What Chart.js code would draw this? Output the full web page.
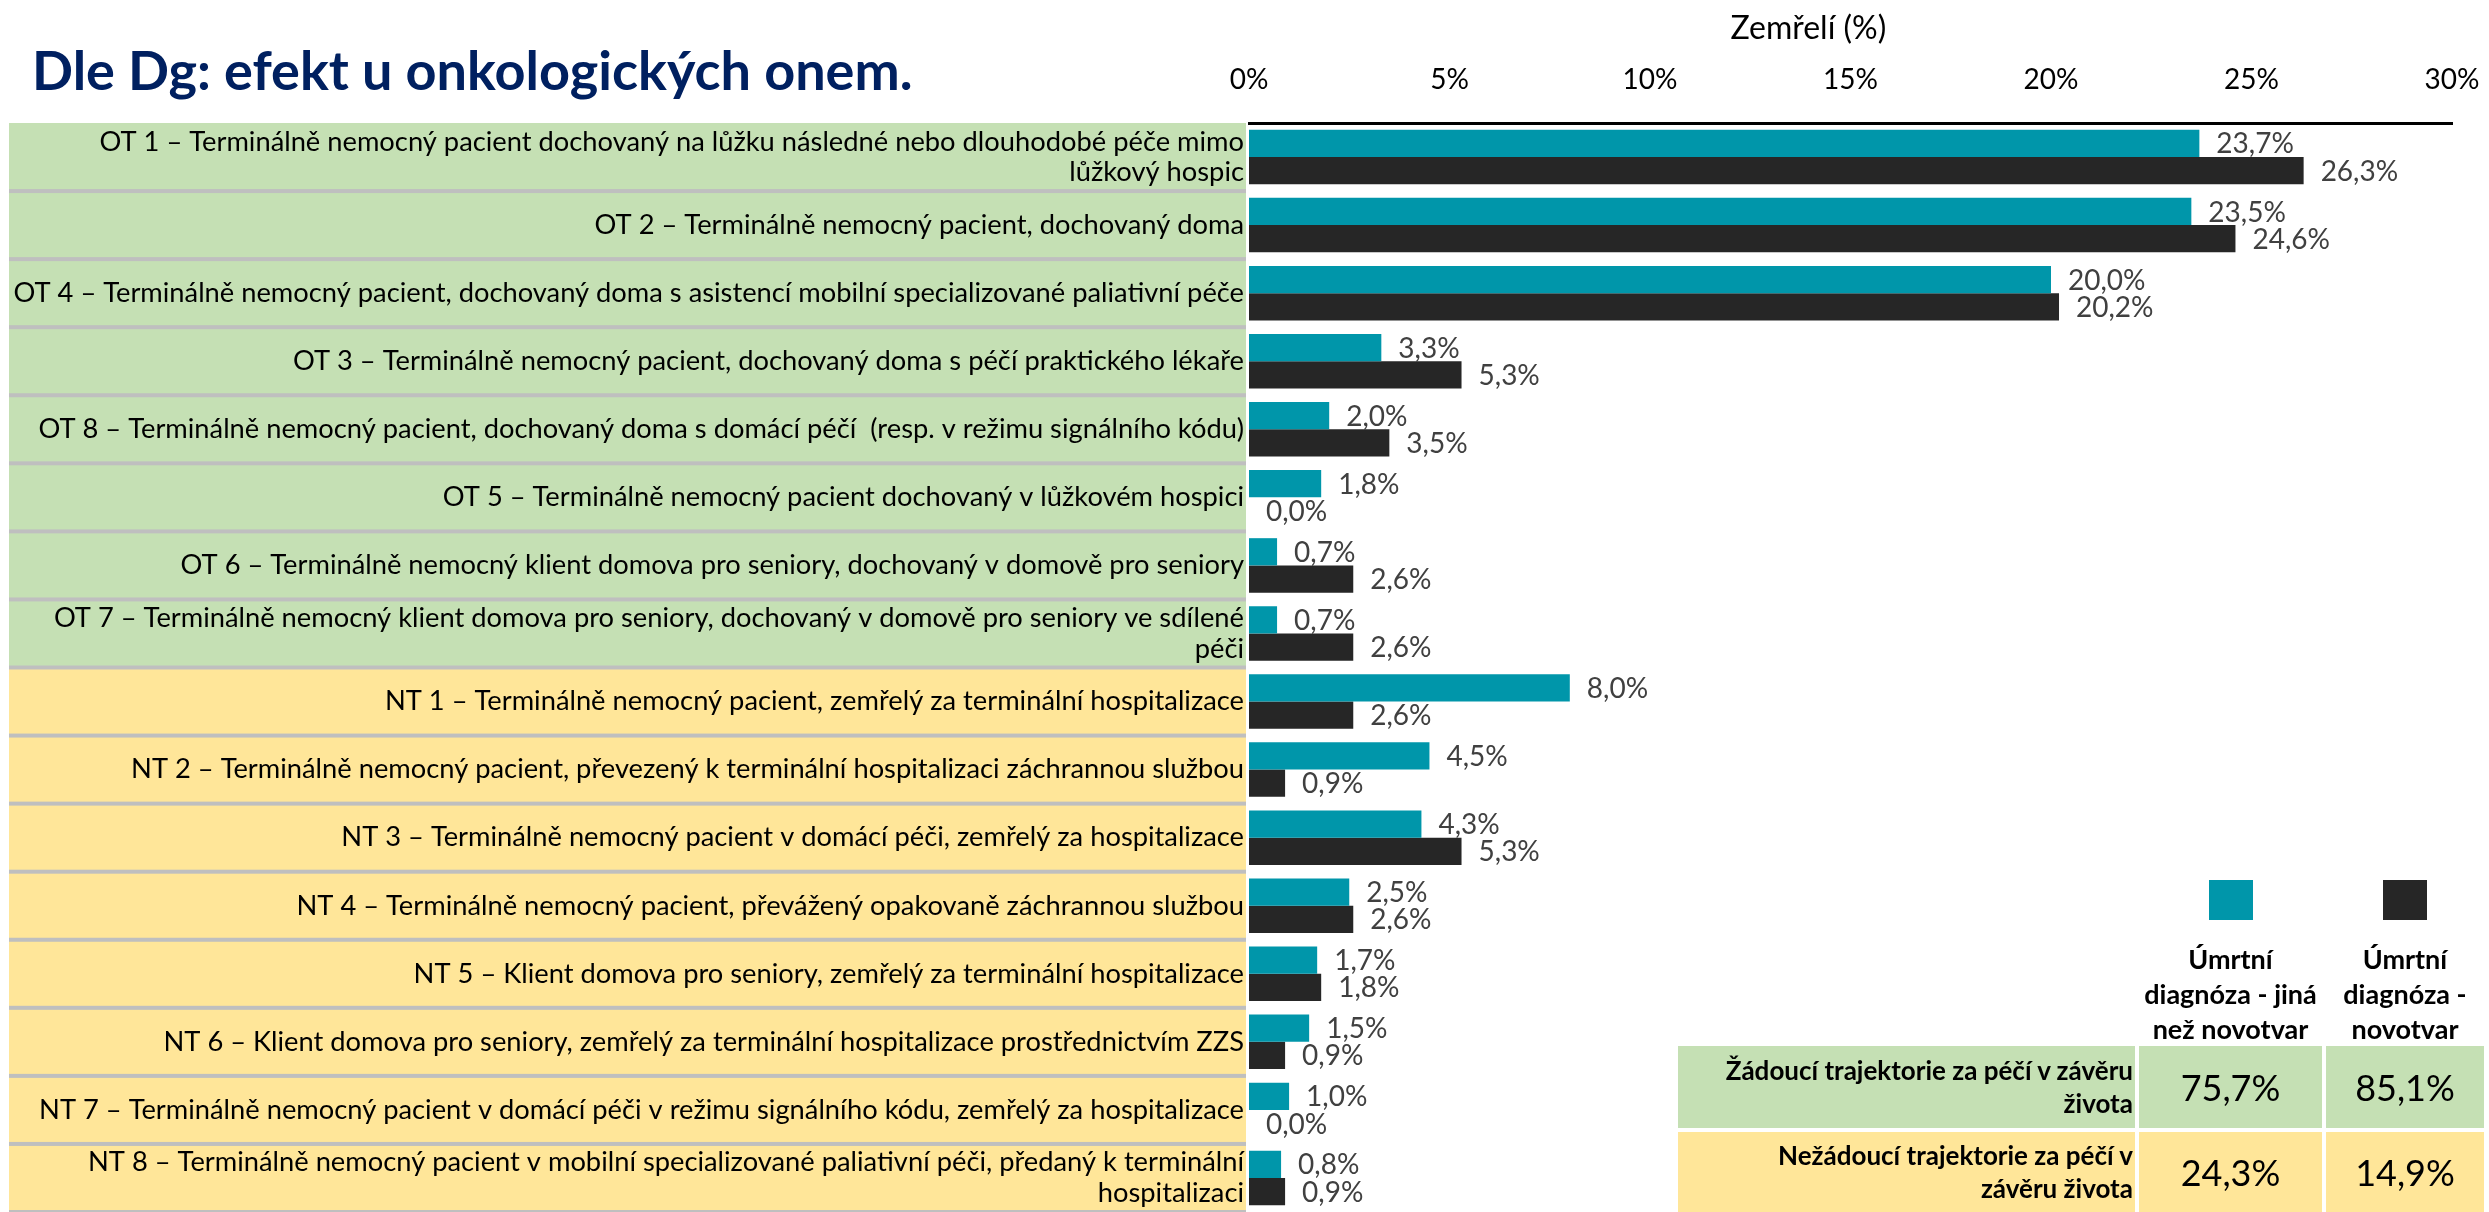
<!DOCTYPE html>
<html lang="cs">
<head>
<meta charset="utf-8">
<title>Dle Dg: efekt u onkologických onem.</title>
<script src="https://cdn.jsdelivr.net/npm/chart.js@4.4.1/dist/chart.umd.min.js"></script>
<style>
  html, body { margin: 0; padding: 0; background: #fff; overflow: hidden; }
  #wrap { position: relative; width: 2489px; height: 1212px; }
  #chartBox { position: absolute; left: 0; top: 0; width: 2489px; height: 1212px; }
  .title { position: absolute; left: 32px; top: 37px; margin: 0; font: bold 54px Lato, sans-serif; color: #002060; }
  .summary { position: absolute; left: 1678px; top: 880px; width: 806px;
             display: grid; grid-template-columns: 457px 183px 158px; grid-template-rows: 40px 118px 82px 80px;
             gap: 4px; font-family: Lato, sans-serif; color: #000; }
  .swatch { width: 44px; height: 40px; justify-self: center; }
  .head { align-self: end; text-align: center; font-weight: bold; font-size: 27px; line-height: 35px; margin-bottom: -4px; }
  .cell { display: flex; align-items: center; justify-content: center; font-size: 36px; }
  .rowlab { display: flex; align-items: center; justify-content: flex-end; text-align: right;
            font-weight: bold; font-size: 26px; line-height: 33px; padding-right: 2px; }
</style>
</head>
<body>
<div id="wrap">
  <div id="chartBox"><canvas id="chart"></canvas></div>
  <h1 class="title">Dle Dg: efekt u onkologických onem.</h1>
  <div class="summary" id="summary"></div>
</div>
<script>
// categories (top to bottom)
const categories = [
  ["OT 1 – Terminálně nemocný pacient dochovaný na lůžku následné nebo dlouhodobé péče mimo", "lůžkový hospic"],
  "OT 2 – Terminálně nemocný pacient, dochovaný doma",
  "OT 4 – Terminálně nemocný pacient, dochovaný doma s asistencí mobilní specializované paliativní péče",
  "OT 3 – Terminálně nemocný pacient, dochovaný doma s péčí praktického lékaře",
  "OT 8 – Terminálně nemocný pacient, dochovaný doma s domácí péčí  (resp. v režimu signálního kódu)",
  "OT 5 – Terminálně nemocný pacient dochovaný v lůžkovém hospici",
  "OT 6 – Terminálně nemocný klient domova pro seniory, dochovaný v domově pro seniory",
  ["OT 7 – Terminálně nemocný klient domova pro seniory, dochovaný v domově pro seniory ve sdílené", "péči"],
  "NT 1 – Terminálně nemocný pacient, zemřelý za terminální hospitalizace",
  "NT 2 – Terminálně nemocný pacient, převezený k terminální hospitalizaci záchrannou službou",
  "NT 3 – Terminálně nemocný pacient v domácí péči, zemřelý za hospitalizace",
  "NT 4 – Terminálně nemocný pacient, převážený opakovaně záchrannou službou",
  "NT 5 – Klient domova pro seniory, zemřelý za terminální hospitalizace",
  "NT 6 – Klient domova pro seniory, zemřelý za terminální hospitalizace prostřednictvím ZZS",
  "NT 7 – Terminálně nemocný pacient v domácí péči v režimu signálního kódu, zemřelý za hospitalizace",
  ["NT 8 – Terminálně nemocný pacient v mobilní specializované paliativní péči, předaný k terminální", "hospitalizaci"]
];
// OT = žádoucí (green), NT = nežádoucí (yellow)
const groups = ["OT","OT","OT","OT","OT","OT","OT","OT","NT","NT","NT","NT","NT","NT","NT","NT"];

const seriesNames = [["Úmrtní", "diagnóza - jiná", "než novotvar"], ["Úmrtní", "diagnóza -", "novotvar"]];
const otherDg = [23.7, 23.5, 20.0, 3.3, 2.0, 1.8, 0.7, 0.7, 8.0, 4.5, 4.3, 2.5, 1.7, 1.5, 1.0, 0.8];
const oncoDg  = [26.3, 24.6, 20.2, 5.3, 3.5, 0.0, 2.6, 2.6, 2.6, 0.9, 5.3, 2.6, 1.8, 0.9, 0.0, 0.9];

const xTicks = [0, 5, 10, 15, 20, 25, 30];
const axisTitle = "Zemřelí (%)";

const summaryLabels = [["Žádoucí trajektorie za péčí v závěru", "života"], ["Nežádoucí trajektorie za péčí v", "závěru života"]];
const summaryOther = [75.7, 24.3];
const summaryOnco = [85.1, 14.9];

const TEAL = "#0096aa";
const DARK = "#262626";
const GREEN = "#c5e0b4";
const YELLOW = "#ffe699";
const FONT = "Lato, sans-serif";

const fmt = v => v.toFixed(1).replace(".", ",") + "%";

// row backgrounds + separators behind the category labels
const rowBands = {
  id: "rowBands",
  beforeDraw(chart) {
    const ctx = chart.ctx;
    const y = chart.scales.y;
    const step = y.getPixelForValue(1) - y.getPixelForValue(0);
    const right = chart.chartArea.left - 3;
    ctx.save();
    groups.forEach((g, i) => {
      const top = y.getPixelForValue(i) - step / 2;
      ctx.fillStyle = g === "OT" ? GREEN : YELLOW;
      ctx.fillRect(9, top, right - 9, step);
    });
    ctx.fillStyle = "#bfbfbf";
    groups.forEach((g, i) => {
      const bottom = y.getPixelForValue(i) + step / 2;
      ctx.fillRect(9, bottom - 2, right - 9, 4);
    });
    ctx.restore();
  }
};

const valueLabels = {
  id: "valueLabels",
  afterDatasetsDraw(chart) {
    const ctx = chart.ctx;
    ctx.save();
    ctx.font = "28px " + FONT;
    ctx.fillStyle = "#404040";
    ctx.textBaseline = "middle";
    chart.data.datasets.forEach((ds, di) => {
      chart.getDatasetMeta(di).data.forEach((bar, i) => {
        ctx.fillText(fmt(ds.data[i]), bar.x + 17, bar.y + 1);
      });
    });
    ctx.restore();
  }
};

const topTitle = {
  id: "topTitle",
  afterDraw(chart) {
    const ctx = chart.ctx;
    const a = chart.chartArea;
    ctx.save();
    ctx.font = "32px " + FONT;
    ctx.fillStyle = "#000";
    ctx.textAlign = "center";
    ctx.textBaseline = "middle";
    ctx.fillText(axisTitle, a.left + (a.right - a.left) * 0.465, 29);
    ctx.restore();
  }
};

new Chart(document.getElementById("chart"), {
  type: "bar",
  data: {
    labels: categories,
    datasets: [
      { label: seriesNames[0].join(" "), data: otherDg, backgroundColor: TEAL },
      { label: seriesNames[1].join(" "), data: oncoDg, backgroundColor: DARK }
    ]
  },
  options: {
    indexAxis: "y",
    responsive: true,
    maintainAspectRatio: false,
    animation: false,
    datasets: { bar: { categoryPercentage: 0.8, barPercentage: 1.0 } },
    layout: { padding: { left: 0, right: 37, top: 0, bottom: -6 } },
    plugins: { legend: { display: false }, tooltip: { enabled: false } },
    scales: {
      x: {
        position: "top",
        min: 0, max: 30,
        afterBuildTicks: s => { s.ticks = xTicks.map(v => ({ value: v })); },
        afterFit: s => { s.height = 123; s.paddingLeft = 0; s.paddingRight = 0; },
        grid: { display: false, drawTicks: false },
        border: { display: true, color: "#000", width: 3 },
        ticks: { callback: v => v + "%", color: "#000", font: { family: FONT, size: 28 }, padding: 26 }
      },
      y: {
        afterFit: s => { s.width = 1249; s.paddingTop = 0; s.paddingBottom = 0; },
        grid: { display: false, drawTicks: false },
        border: { display: false },
        ticks: { autoSkip: false, color: "#000", padding: 5, font: { family: FONT, size: 27.3, lineHeight: 1.12 } }
      }
    }
  },
  plugins: [rowBands, valueLabels, topTitle]
});

// summary table with legend swatches
const box = document.getElementById("summary");
const add = (cls, html, style) => {
  const d = document.createElement("div");
  d.className = cls;
  d.innerHTML = html;
  if (style) d.style.cssText = style;
  box.appendChild(d);
};
add("", "");
add("swatch", "", "background:" + TEAL);
add("swatch", "", "background:" + DARK);
add("", "");
add("head", seriesNames[0].join("<br>"));
add("head", seriesNames[1].join("<br>"));
summaryLabels.forEach((lab, i) => {
  const bg = i === 0 ? GREEN : YELLOW;
  add("rowlab", lab.join("<br>"), "background:" + bg);
  add("cell", fmt(summaryOther[i]), "background:" + bg);
  add("cell", fmt(summaryOnco[i]), "background:" + bg);
});
</script>
</body>
</html>
